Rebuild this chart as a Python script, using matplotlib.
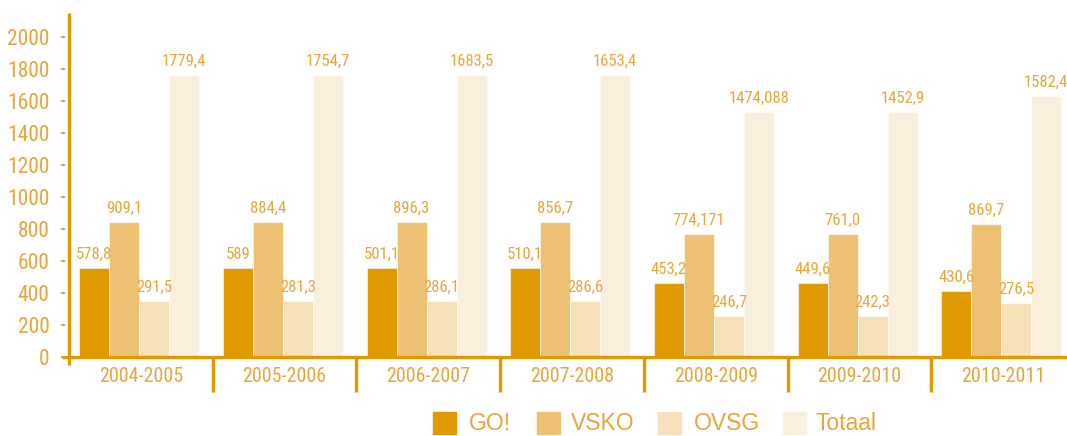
import matplotlib
matplotlib.use("Agg")
import matplotlib.pyplot as plt
from matplotlib import font_manager
from matplotlib.font_manager import FontProperties
from matplotlib.textpath import TextPath
from matplotlib.patches import Rectangle

# ---- data ----
periods = ["2004-2005", "2005-2006", "2006-2007", "2007-2008",
           "2008-2009", "2009-2010", "2010-2011"]
series = ["GO!", "VSKO", "OVSG", "Totaal"]
# bar heights as drawn in the reference
go_vals = [555, 555, 555, 555, 462, 462, 412]
vsko_vals = [844, 844, 844, 844, 769, 769, 831]
ovsg_vals = [350, 350, 350, 350, 256, 256, 337]
totaal_vals = [1760, 1760, 1760, 1760, 1531, 1531, 1631]
# value labels as printed in the reference
go_labels = ["578,8", "589", "501,1", "510,1", "453,2", "449,6", "430,6"]
vsko_labels = ["909,1", "884,4", "896,3", "856,7", "774,171", "761,0", "869,7"]
ovsg_labels = ["291,5", "281,3", "286,1", "286,6", "246,7", "242,3", "276,5"]
totaal_labels = ["1779,4", "1754,7", "1683,5", "1653,4", "1474,088", "1452,9", "1582,4"]
yticks = [0, 200, 400, 600, 800, 1000, 1200, 1400, 1600, 1800, 2000]

values = [go_vals, vsko_vals, ovsg_vals, totaal_vals]
labels = [go_labels, vsko_labels, ovsg_labels, totaal_labels]
colors = ["#E09A00", "#EDC173", "#F7DFB9", "#FAEEDC"]
txt = "#E8A53A"
axis_col = "#E09A00"

# pick a condensed sans font if available
cands = []
for fe in font_manager.fontManager.ttflist:
    fn = fe.fname.lower()
    base = fn.rsplit("/", 1)[-1]
    if any(k in base for k in ("bold", "italic", "oblique", "light", "thin",
                               "medium", "black", "semibold", "mono")):
        continue
    if fe.style != "normal":
        continue
    score = 0
    if "liberationsansnarrow" in base:
        score = 10
    elif "notosans-condensed." in base or base.startswith("notosans-condensed"):
        score = 9
    elif "condensed" in base and "semi" not in base and "extra" not in base:
        score = 8
    elif "narrow" in base:
        score = 7
    elif "semicondensed" in base:
        score = 5
    elif "extracondensed" in base:
        score = 4
    elif fe.stretch in ("condensed", "semi-condensed"):
        score = 3
    if score:
        cands.append((score, fe.fname))
cands.sort(reverse=True)
narrow_path = cands[0][1] if cands else None


def base_fp():
    if narrow_path:
        return FontProperties(fname=narrow_path)
    return FontProperties(family="Roboto")


def fit_size(sample, target_px, max_size):
    fp = base_fp()
    fp.set_size(100)
    w = TextPath((0, 0), sample, prop=fp).get_extents().width  # points
    size = target_px / (w * 100 / 72.0) * 100
    return min(size, max_size)


def nfp(size):
    fp = base_fp()
    fp.set_size(size)
    return fp


tick_size = fit_size("2000", 41, 15.5)
val_size = fit_size("1779,4", 43, 12)
cat_size = fit_size("2004-2005", 82, 15)

W, H = 1067, 436
fig = plt.figure(figsize=(W / 100, H / 100), dpi=100)
ax_left, ax_right, ax_top, ax_bot = 65, 1067, 13, 357
ax = fig.add_axes([ax_left / W, (H - ax_bot) / H,
                   (ax_right - ax_left) / W, (ax_bot - ax_top) / H])

grp = 143.7  # px per group
x0 = -0.5 - (69 - ax_left) / grp
x1 = x0 + (ax_right - ax_left) / grp
ymax = (ax_bot - ax_top) * 6.25
ax.set_xlim(x0, x1)
ax.set_ylim(0, ymax)

bw = 30 / grp
center_shift = -0.012
for s, (vals, labs, col) in enumerate(zip(values, labels, colors)):
    xs = [i + center_shift + (s - 1.5) * bw for i in range(len(periods))]
    ax.bar(xs, vals, width=bw, color=col, edgecolor="white", linewidth=0.4,
           zorder=2)
    for x, v, l in zip(xs, vals, labs):
        ax.text(x, v + 40, l, ha="center", va="bottom", color=txt,
                fontproperties=nfp(val_size), zorder=3)

for sp in ax.spines.values():
    sp.set_visible(False)

# axis lines
ax.plot([-0.5, -0.5], [-50, ymax], color=axis_col, lw=2.4,
        clip_on=False, zorder=4, solid_capstyle="butt")
ax.plot([x0 - 3 / grp, x1 + 0.1], [0, 0], color=axis_col, lw=2.4,
        clip_on=False, zorder=4, solid_capstyle="butt")
for k in range(1, len(periods) + 1):
    ax.plot([k - 0.5, k - 0.5], [0, -220], color=axis_col, lw=2.4,
            clip_on=False, zorder=4, solid_capstyle="butt")

# detached y tick dashes
tick_x = -0.5 - 6 / grp
ax.plot([tick_x] * len(yticks), yticks, linestyle="none", marker="_",
        markersize=3.2, markeredgewidth=1.3, color=axis_col, clip_on=False,
        zorder=4)

ax.set_xticks([])
ax.set_yticks(yticks)
ax.set_yticklabels([str(t) for t in yticks], color=txt)
for t in ax.get_yticklabels():
    t.set_fontproperties(nfp(tick_size))
ax.tick_params(axis="y", length=0, pad=11)

for i, p in enumerate(periods):
    ax.text(i, -120, p, ha="center", va="center", color=txt,
            fontproperties=nfp(cat_size), clip_on=False)

# legend
sq_x = [433, 537, 658, 783]
tx_x = [469, 571, 694, 815]
for name, col, sx, tx in zip(series, colors, sq_x, tx_x):
    fig.patches.append(Rectangle((sx / W, (H - 434) / H), 23 / W, 22 / H,
                                 transform=fig.transFigure, color=col))
    fig.text(tx / W, (H - 423) / H, name, ha="left", va="center",
             color=txt, fontsize=16.5, family="Liberation Sans")

fig.savefig("out.png", dpi=100)
